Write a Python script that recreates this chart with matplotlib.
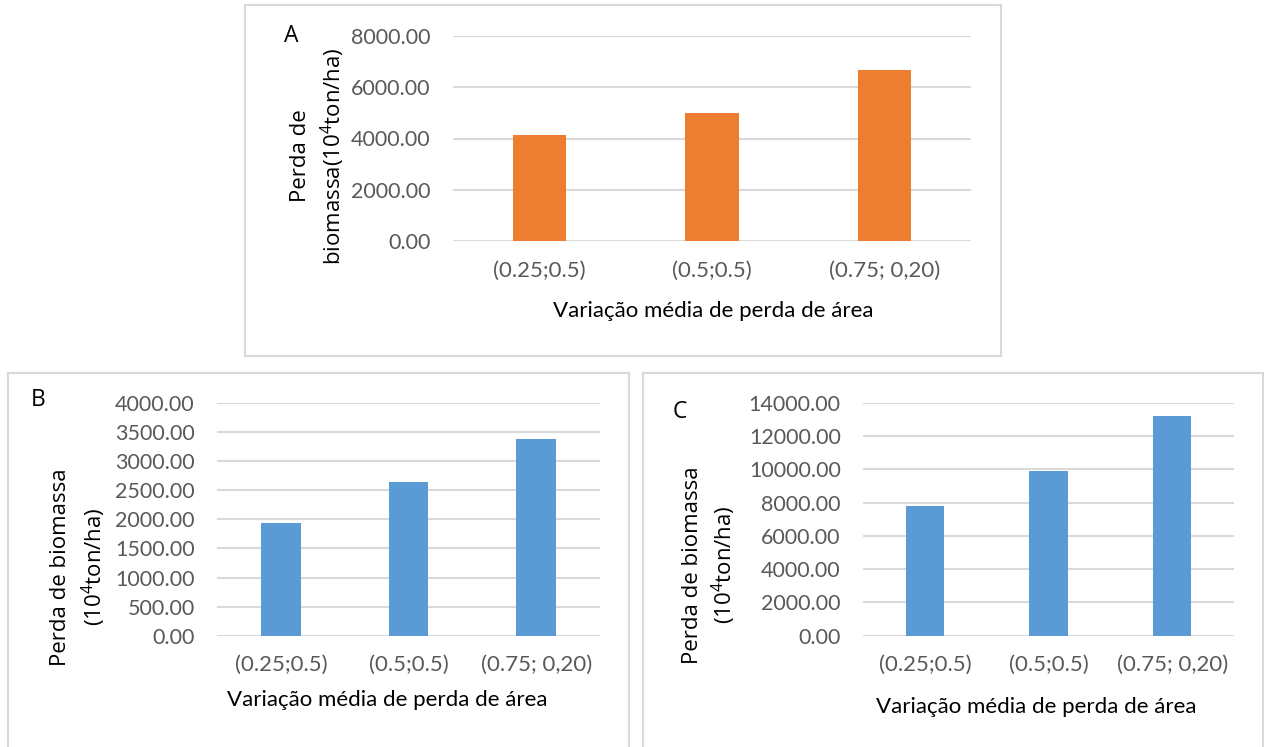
import matplotlib
matplotlib.use("Agg")
import matplotlib.pyplot as plt
from matplotlib.patches import Rectangle

# ---- data ----
categories = ["(0.25;0.5)", "(0.5;0.5)", "(0.75; 0,20)"]
values_a = [4140, 4980, 6660]
values_b = [1940, 2640, 3380]
values_c = [7800, 9910, 13200]
yticks_a = [0, 2000, 4000, 6000, 8000]
yticks_b = [0, 500, 1000, 1500, 2000, 2500, 3000, 3500, 4000]
yticks_c = [0, 2000, 4000, 6000, 8000, 10000, 12000, 14000]
xlabel_text = "Variação média de perda de área"

ORANGE = "#ED7D31"
BLUE = "#5B9BD5"
GRID = "#D9D9D9"
TICK = "#595959"

W, H = 1268, 747
fig = plt.figure(figsize=(W / 100, H / 100), dpi=100)
fig.patch.set_facecolor("white")

TICKFONT = "Lato"
LABFONT = "Open Sans"


def fx(x):
    return x / W


def fy(y):
    return 1 - y / H


def box(x0, y0, x1, y1):
    fig.patches.append(Rectangle((fx(x0), fy(y1)), fx(x1) - fx(x0), fy(y0) - fy(y1),
                                 transform=fig.transFigure, fill=False,
                                 edgecolor=GRID, linewidth=1.5, zorder=0))


def panel(x0, y0, x1, y1, vals, ticks, color):
    ax = fig.add_axes([fx(x0), fy(y1), fx(x1) - fx(x0), fy(y0) - fy(y1)])
    ax.bar(range(len(categories)), vals, width=0.31, color=color, zorder=2)
    ax.set_xlim(-0.5, len(categories) - 0.5)
    ax.set_ylim(ticks[0], ticks[-1])
    ax.set_yticks(ticks)
    ax.set_yticklabels([f"{t:.2f}" for t in ticks], fontfamily=TICKFONT,
                       fontsize=15.5, color=TICK)
    ax.set_xticks(range(len(categories)))
    ax.set_xticklabels(categories, fontfamily=TICKFONT, fontsize=16, color=TICK)
    ax.tick_params(axis="y", length=0, pad=16)
    ax.tick_params(axis="x", length=0, pad=14)
    ax.yaxis.grid(True, color=GRID, linewidth=1.5, zorder=0)
    ax.set_axisbelow(True)
    for s in ax.spines.values():
        s.set_visible(False)
    ax.set_facecolor("none")
    return ax


# boxes
box(245, 5, 1001, 356)
box(8, 373, 629, 760)
box(643, 373, 1263, 760)

# panels
panel(453, 36, 971, 241, values_a, yticks_a, ORANGE)
panel(217, 403, 600, 635.7, values_b, yticks_b, BLUE)
panel(863, 403, 1234, 635.7, values_c, yticks_c, BLUE)

sup = r"10$\mathregular{^4}$"

# panel letters
fig.text(fx(291), fy(36), "A", fontfamily=LABFONT, fontsize=16.5, ha="center", va="center")
fig.text(fx(38), fy(400), "B", fontfamily=LABFONT, fontsize=16.5, ha="center", va="center")
fig.text(fx(680), fy(412), "C", fontfamily=LABFONT, fontsize=16.5, ha="center", va="center")

# y labels
fig.text(fx(300), fy(156), "Perda de", rotation=90, fontfamily=LABFONT, fontsize=16,
         ha="center", va="center")
fig.text(fx(333), fy(156), "biomassa(" + sup + "ton/ha)", rotation=90, fontfamily=LABFONT,
         fontsize=16, ha="center", va="center")
fig.text(fx(60), fy(567), "Perda de biomassa", rotation=90, fontfamily=LABFONT, fontsize=16,
         ha="center", va="center")
fig.text(fx(94), fy(567), "(" + sup + "ton/ha)", rotation=90, fontfamily=LABFONT, fontsize=16,
         ha="center", va="center")
fig.text(fx(692), fy(565), "Perda de biomassa", rotation=90, fontfamily=LABFONT, fontsize=16,
         ha="center", va="center")
fig.text(fx(724), fy(565), "(" + sup + "ton/ha)", rotation=90, fontfamily=LABFONT, fontsize=16,
         ha="center", va="center")

# x labels
fig.text(fx(713), fy(311), xlabel_text, fontfamily=TICKFONT, fontsize=16, ha="center", va="center")
fig.text(fx(387), fy(700), xlabel_text, fontfamily=TICKFONT, fontsize=16, ha="center", va="center")
fig.text(fx(1036), fy(707), xlabel_text, fontfamily=TICKFONT, fontsize=16, ha="center", va="center")

fig.savefig("out.png", dpi=100, facecolor="white")
